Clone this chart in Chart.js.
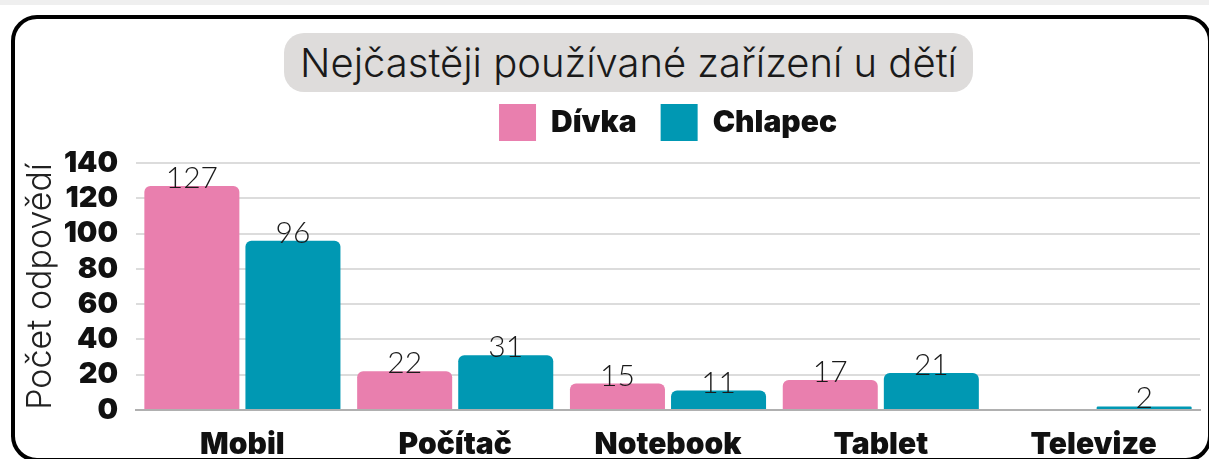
<!DOCTYPE html>
<html lang="cs">
<head>
  <meta charset="UTF-8" />
  <title>Nejčastěji používané zařízení u dětí</title>
  <script src="https://cdn.jsdelivr.net/npm/chart.js"></script>
  <style>
    html, body { margin: 0; padding: 0; background: #fff; }
    body { width: 1209px; height: 459px; position: relative; overflow: hidden; }
    .strip { position: absolute; left: 0; top: 0; width: 1209px; height: 5px; background: #efefef; }
    .frame {
      position: absolute; left: 11px; top: 15px; width: 1201px; height: 447px;
      box-sizing: border-box; border: 4px solid #000; border-radius: 26px;
    }
    .pill {
      position: absolute; left: 284px; top: 33px; width: 689px; height: 59px;
      background: #dedcdb; border-radius: 20px;
      font-family: Inter, sans-serif; font-weight: 300; font-size: 40px; color: #1a1a1a;
      display: flex; align-items: center; justify-content: center;
    }
    #wrap { position: absolute; left: 0; top: 0; width: 1209px; height: 459px; }
  </style>
</head>
<body>
  <div class="strip"></div>
  <div class="frame"></div>
  <div class="pill">Nejčastěji používané zařízení u dětí</div>
  <div id="wrap"><canvas id="chart"></canvas></div>

  <script>
    const categories = ['Mobil', 'Počítač', 'Notebook', 'Tablet', 'Televize'];
    const divka = [127, 22, 15, 17, 0];
    const chlapec = [96, 31, 11, 21, 2];
    const yTicks = [0, 20, 40, 60, 80, 100, 120, 140];

    const pink = '#e97fae';
    const teal = '#0098b3';

    // value labels sitting on top of each bar
    const valueLabels = {
      id: 'valueLabels',
      afterDatasetsDraw(chart) {
        const ctx = chart.ctx;
        ctx.save();
        ctx.font = '300 30px Lato, sans-serif';
        ctx.fillStyle = '#1a1a1a';
        ctx.textAlign = 'center';
        ctx.textBaseline = 'alphabetic';
        chart.data.datasets.forEach((ds, i) => {
          chart.getDatasetMeta(i).data.forEach((bar, j) => {
            if (!ds.data[j]) return;
            ctx.fillText(String(ds.data[j]), bar.x, bar.y + 2);
          });
        });
        ctx.restore();
      }
    };

    // tweak the space between legend and plot
    const legendGap = {
      id: 'legendGap',
      afterInit(chart) {
        const fit = chart.legend.fit;
        chart.legend.fit = function () { fit.call(this); this.height += 12; };
      }
    };

    const boldFont = { family: 'Inter, sans-serif', size: 30, weight: '900' };

    new Chart(document.getElementById('chart').getContext('2d'), {
      type: 'bar',
      data: {
        labels: categories,
        datasets: [
          { label: 'Dívka', data: divka, backgroundColor: pink, borderRadius: 6 },
          { label: 'Chlapec', data: chlapec, backgroundColor: teal, borderRadius: 6 }
        ]
      },
      options: {
        responsive: true,
        maintainAspectRatio: false,
        animation: false,
        categoryPercentage: 0.95,
        barPercentage: 0.94,
        layout: { padding: { left: 20, right: 9, top: 80, bottom: 0 } },
        plugins: {
          tooltip: { enabled: false },
          legend: {
            position: 'top',
            fullSize: false,
            labels: {
              boxWidth: 37, boxHeight: 37, padding: 24,
              color: '#111',
              font: boldFont
            }
          }
        },
        scales: {
          x: {
            grid: { display: false, drawTicks: false },
            border: { display: true, color: '#b0b0b0', width: 2 },
            ticks: { color: '#111', padding: 17, autoSkip: false, maxRotation: 0, font: boldFont },
            afterFit: s => { s.height = 49; }
          },
          y: {
            min: 0, max: 140,
            afterBuildTicks: s => { s.ticks = yTicks.map(v => ({ value: v })); },
            grid: { color: '#dcdcdc', lineWidth: 2, drawTicks: false },
            border: { display: false },
            ticks: { color: '#111', padding: 18, autoSkip: false, font: { family: 'Inter, sans-serif', size: 29, weight: '900' } },
            title: {
              display: true, text: 'Počet odpovědí', color: '#222',
              padding: 0, font: { family: 'Inter, sans-serif', size: 34, weight: '300' }
            },
            afterFit: s => { s.width = 116; }
          }
        }
      },
      plugins: [valueLabels, legendGap]
    });
  </script>
</body>
</html>
